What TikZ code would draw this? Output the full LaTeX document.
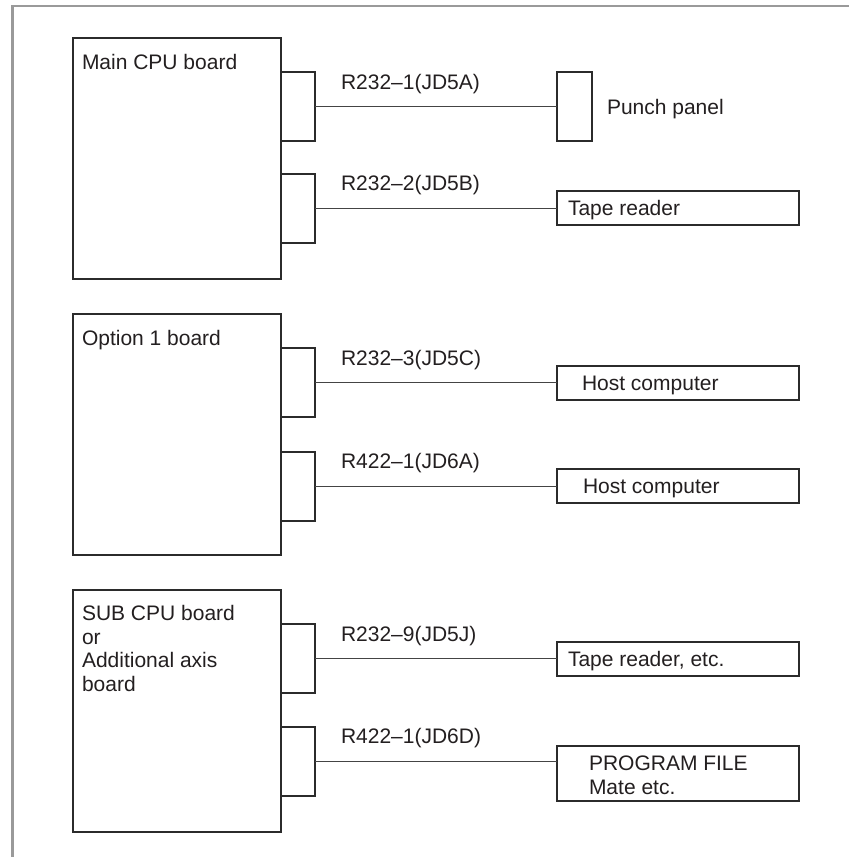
\documentclass[tikz,border=0pt]{standalone}
\usepackage{fontspec}
\setmainfont{Liberation Sans}
\definecolor{boxc}{HTML}{2B2B2B}
\definecolor{linec}{HTML}{444444}
\definecolor{txtc}{HTML}{231F20}
\definecolor{framec}{HTML}{9A9A9A}
\begin{document}
\begin{tikzpicture}[x=1pt,y=-1pt,
  box/.style={draw=boxc, line width=1.3pt, inner sep=0pt, outer sep=0pt, anchor=north west, fill=white},
  board/.style={box, minimum width=208pt, minimum height=241pt},
  port/.style={box, minimum width=34pt, minimum height=69pt},
  dev/.style={box, minimum width=242pt, minimum height=34pt},
  conn/.style={draw=linec, line width=1pt},
  txt/.style={inner sep=0pt, outer sep=0pt, anchor=base west, text=txtc, font=\fontsize{21}{24}\selectfont}]
\useasboundingbox (0,0) rectangle (849,857);
\fill[white] (0,0) rectangle (849,857);
\draw[framec, line width=2.5pt] (12.5,857) -- (12.5,6) -- (849,6);

% ---------- Main CPU board ----------
\node[board] (mainb) at (73,38) {};
\node[txt] (maint) at (82,69) {Main CPU board};
\node[port] (c1) at (281,72) {};
\node[port] (c2) at (281,174) {};
\node[box, minimum width=35pt, minimum height=69pt] (punch) at (557,72) {};
\node[txt] (punt) at (607,114.5) {Punch panel};
\node[dev] (tape1) at (557,191) {};
\node[txt] (tape1t) at (568,215.5) {Tape reader};
\draw[conn] (c1.east) -- (c1.east -| punch.west);
\draw[conn] (c2.east) -- (c2.east -| tape1.west);
\node[txt] (l1) at (341,89.5) {R232–1(JD5A)};
\node[txt] (l2) at (341,190.5) {R232–2(JD5B)};

% ---------- Option 1 board ----------
\node[board] (optb) at (73,314) {};
\node[txt] (optt) at (82,345) {Option 1 board};
\node[port] (c3) at (281,348) {};
\node[port] (c4) at (281,452) {};
\node[dev] (host1) at (557,366) {};
\node[txt] (host1t) at (582,390.5) {Host computer};
\node[dev] (host2) at (557,469) {};
\node[txt] (host2t) at (583,493.5) {Host computer};
\draw[conn] (c3.east) -- (c3.east -| host1.west);
\draw[conn] (c4.east) -- (c4.east -| host2.west);
\node[txt] (l3) at (341,365.5) {R232–3(JD5C)};
\node[txt] (l4) at (341,468.5) {R422–1(JD6A)};

% ---------- SUB CPU board ----------
\node[board, minimum height=242pt] (subb) at (73,590) {};
\node[txt] (subt1) at (82,620) {SUB CPU board};
\node[txt] (subt2) at (82,644) {or};
\node[txt] (subt3) at (82,667.5) {Additional axis};
\node[txt] (subt4) at (82,691) {board};
\node[port] (c5) at (281,624) {};
\node[port] (c6) at (281,727) {};
\node[dev] (tape2) at (557,642) {};
\node[txt] (tape2t) at (568,666.5) {Tape reader, etc.};
\node[dev, minimum height=55pt] (prog) at (557,746) {};
\node[txt] (progt1) at (589,770) {PROGRAM FILE};
\node[txt] (progt2) at (589,794) {Mate etc.};
\draw[conn] (c5.east) -- (c5.east -| tape2.west);
\draw[conn] (c6.east) -- (c6.east -| prog.west);
\node[txt] (l5) at (341,641.5) {R232–9(JD5J)};
\node[txt] (l6) at (341,743.5) {R422–1(JD6D)};
\end{tikzpicture}
\end{document}
